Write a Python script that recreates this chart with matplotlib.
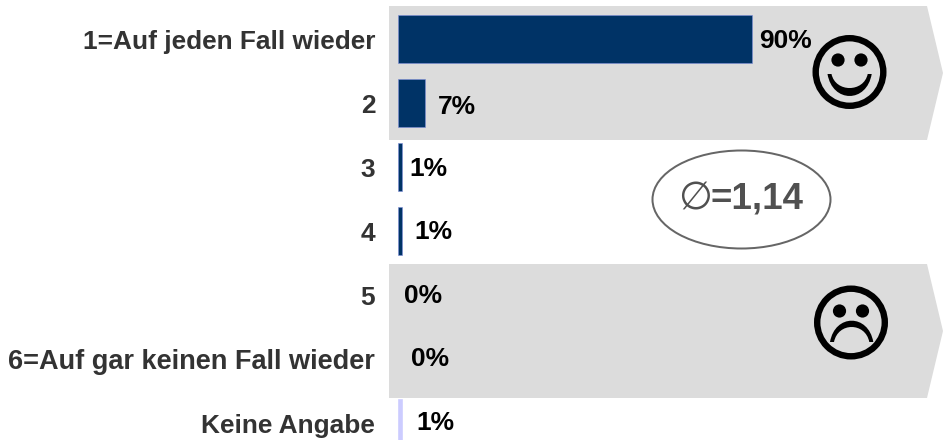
import matplotlib
matplotlib.use('Agg')
import matplotlib.pyplot as plt
from matplotlib.patches import Polygon, Ellipse, Circle, PathPatch
from matplotlib.path import Path

plt.rcParams['font.family'] = ['Liberation Sans', 'DejaVu Sans']

categories = ['1=Auf jeden Fall wieder', '2', '3', '4', '5',
              '6=Auf gar keinen Fall wieder', 'Keine Angabe']
values = [90, 7, 1, 1, 0, 0, 1]
value_labels = ['90%', '7%', '1%', '1%', '0%', '0%', '1%']

DARK = '#003366'
LIGHT = '#ccccff'
BAND = '#dcdcdc'
W, H = 943, 440
PX = 0.72  # one pixel in points at dpi 100


def band(ax, top, bottom):
    mid = (top + bottom) / 2
    ax.add_patch(Polygon([(389, top), (927, top), (943, mid), (927, bottom), (389, bottom)],
                         closed=True, fc=BAND, ec='none'))


def mouth(ax, x0, x1, y_end, y_a, y_b):
    # crescent between two cubic curves
    verts = [(x0, y_end), (x0 + 5, y_a), (x1 - 5, y_a), (x1, y_end),
             (x1 - 4, y_end), (x1 - 8, y_b), (x0 + 8, y_b), (x0 + 4, y_end), (x0, y_end)]
    codes = [Path.MOVETO, Path.CURVE4, Path.CURVE4, Path.CURVE4,
             Path.LINETO, Path.CURVE4, Path.CURVE4, Path.CURVE4, Path.CLOSEPOLY]
    ax.add_patch(PathPatch(Path(verts, codes), fc='black', ec='none'))


def face(ax, cx, cy, eye_y, mouth_args):
    ax.add_patch(Circle((cx, cy), 33.8, fc='none', ec='black', lw=6.4 * PX))
    ax.add_patch(Circle((cx - 11.5, eye_y), 6.6, fc='black', ec='none'))
    ax.add_patch(Circle((cx + 11.5, eye_y), 6.6, fc='black', ec='none'))
    mouth(ax, *mouth_args)


fig = plt.figure(figsize=(W / 100, H / 100), dpi=100)

# background layer in pixel coordinates
bg = fig.add_axes([0, 0, 1, 1], zorder=0)
bg.set_xlim(0, W)
bg.set_ylim(H, 0)
bg.axis('off')
band(bg, 6, 140)
band(bg, 264, 398)

# bars
left = 397.8
px_per_pct = 3.94
ax = fig.add_axes([left / W, 0, 1 - left / W, 1], zorder=1)
ax.patch.set_alpha(0)
ax.set_xlim(0, (W - left) / px_per_pct)
ax.set_ylim((H - 39) / 64, -39 / 64)
colors = [DARK] * 6 + [LIGHT]
edges = ['#7f8fd8'] * 6 + [LIGHT]
for i, v in enumerate(values):
    if v > 0:
        ax.barh(i, v, height=0.75, color=colors[i], edgecolor=edges[i], linewidth=0.6 * PX)
ax.set_yticks(range(len(categories)))
ax.set_yticklabels(categories, fontweight='bold', color='#333333')
for lab in ax.get_yticklabels():
    # long label runs wider in the original
    lab.set_fontsize(19.5 if lab.get_text().startswith('6=') else 18.9)
ax.tick_params(axis='y', length=0, pad=16.3)
ax.set_xticks([])
for s in ax.spines.values():
    s.set_visible(False)

# value labels sit at hand placed offsets in the original
label_x = [759, 438, 409, 414, 404, 411, 416]
label_y = [41, 107, 169, 232, 296, 359, 423]
for x, y, t in zip(label_x, label_y, value_labels):
    bg.text(x, y, t, fontsize=19, fontweight='bold', color='black', ha='left', va='center', zorder=5)

# mean ellipse
bg.add_patch(Ellipse((741.5, 199.5), 178, 98, fc='white', ec='#666666', lw=2 * PX))
bg.text(695.3, 198, '\u2205', fontsize=28, color='#505050', family='DejaVu Sans', ha='center', va='center')
bg.text(711, 199, '=1,14', fontsize=26.5, fontweight='bold', color='#505050', ha='left', va='center')

# smileys
face(bg, 849.5, 72, 60, (827.5, 871.7, 74, 103.3, 92.7))
face(bg, 851, 322.5, 311, (830, 873.3, 342, 313.6, 322))

fig.savefig('out.png', dpi=100)
